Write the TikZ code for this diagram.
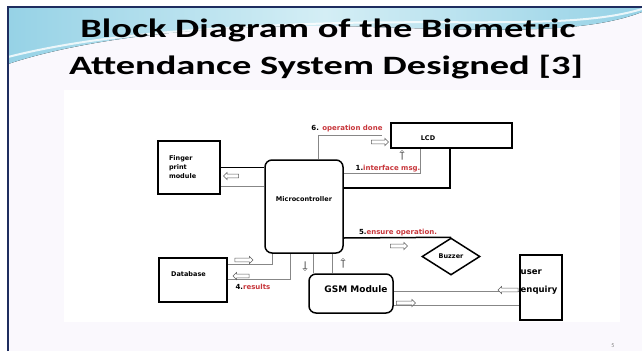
\documentclass[tikz,border=0pt]{standalone}
\usepackage{fontspec}
\setmainfont{Carlito}
\newfontfamily\diagfont{DejaVu Sans}
\usepackage{graphicx}
\usepackage{tikz}
\usetikzlibrary{shapes.geometric,shapes.arrows,positioning,calc}
\usepackage{xcolor}
\definecolor{FrameNavy}{RGB}{30,45,95}
\definecolor{BandCyan}{RGB}{150,210,230}
\definecolor{BandLight}{RGB}{212,238,245}
\definecolor{SlideTint}{RGB}{250,248,253}
\definecolor{LabelRed}{RGB}{200,55,60}
\definecolor{WireGray}{RGB}{135,135,135}
\tikzset{
  blockbox/.style={rectangle,draw=black,line width=1.5pt,fill=white,
    align=left,inner sep=1pt,font=\diagfont\bfseries\fontsize{6.5}{9}\selectfont},
  roundbox/.style={blockbox,rounded corners=7pt},
  txtlbl/.style={inner sep=0pt,font=\diagfont\bfseries\fontsize{6.5}{8}\selectfont},
  steplbl/.style={inner sep=0pt,font=\diagfont\bfseries\fontsize{7}{8}\selectfont},
  titletext/.style={inner sep=0pt,anchor=base,font=\bfseries\fontsize{26.5}{30}\selectfont},
  wire/.style={draw=WireGray,line width=0.7pt},
  heavywire/.style={draw=black,line width=1.5pt},
  hollow/.style={single arrow,draw=WireGray!70!black,fill=white,line width=0.5pt,
    inner xsep=0pt,inner ysep=1.6pt,text height=0pt,text depth=0pt,
    single arrow head extend=1.8pt,minimum height=15pt}
}

\begin{document}
\begin{tikzpicture}[x=1pt,y=-1pt]
  \useasboundingbox (0,0) rectangle (642,351);
  % slide background and title band
  \fill[white] (0,0) rectangle (642,351);
  \fill[SlideTint] (8,7) rectangle (642,351);
  \fill[left color=BandCyan,right color=BandCyan,middle color=BandLight]
    (8,7) -- (642,7) -- (642,12) .. controls (580,36) and (480,30) .. (340,26)
    .. controls (200,24) and (80,40) .. (8,64) -- cycle;
  \draw[white,line width=2pt,opacity=0.8] (8,57) .. controls (90,36) and (200,27) .. (340,23)
    .. controls (480,20) and (580,28) .. (642,9);
  \draw[FrameNavy,line width=2pt] (8,351) -- (8,7) -- (642,7);
  \node[titletext] (title1) at (328,37) {\scalebox{1.45}[1]{Block Diagram of the Biometric}};
  \node[titletext] (title2) at (326,74) {\scalebox{1.45}[1]{Attendance System Designed [3]}};
  \fill[white] (64,90) rectangle (620,322);

  % blocks
  \node[blockbox,minimum width=62pt,minimum height=53pt,text width=40pt] (fp) at (189,167.5) {Finger\\print\\module};
  \node[roundbox,minimum width=78pt,minimum height=93pt] (mcu) at (304,206.5) {};
  \node[txtlbl] (mcutext) at (304,199) {Microcontroller};
  \node[blockbox,minimum width=121pt,minimum height=25pt] (lcd) at (451.5,135.5) {};
  \node[txtlbl] (lcdtext) at (428,138) {LCD};
  \node[blockbox,minimum width=68pt,minimum height=44pt] (db) at (193,280) {};
  \node[txtlbl] (dbtext) at (188.5,274) {Database};
  \node[roundbox,minimum width=84pt,minimum height=39pt] (gsm) at (351,293.5) {};
  \node[txtlbl,font=\diagfont\bfseries\fontsize{9}{11}\selectfont] (gsmtext) at (356,289) {GSM Module};
  \node[diamond,draw=black,line width=1.5pt,fill=white,inner sep=0pt,
    minimum width=58pt,minimum height=37pt,font=\diagfont\bfseries\fontsize{6.5}{8}\selectfont] (bz) at (451,256.5) {Buzzer};
  \node[blockbox,minimum width=42pt,minimum height=65pt] (ue) at (541,287.5) {};
  \node[txtlbl,font=\diagfont\bfseries\fontsize{8.5}{18}\selectfont,align=left,anchor=west] (uetext) at (520.5,282) {user\\enquiry};

  % tap points on the blocks
  \coordinate (fpwire) at ([yshift=-18.5pt]fp.east);
  \coordinate (lcdtap) at ([xshift=-31.5pt]lcd.south);
  \coordinate (lcdbus) at ([xshift=-1.5pt]lcd.south);
  \coordinate (mcuopd) at ([xshift=14pt]mcu.north);
  \coordinate (mcuimsg) at ([yshift=33.5pt]mcu.east);
  \coordinate (mcubus) at ([yshift=18.5pt]mcu.east);
  \coordinate (mcubz) at ([yshift=-31.5pt]mcu.east);
  \coordinate (dbhi) at ([yshift=16pt]db.east);
  \coordinate (dblo) at ([yshift=1pt]db.east);
  \coordinate (mcudb1) at ([xshift=-32pt]mcu.south);
  \coordinate (mcudb2) at ([xshift=-14pt]mcu.south);
  \coordinate (mcugsm1) at ([xshift=9pt]mcu.south);
  \coordinate (mcugsm2) at ([xshift=28pt]mcu.south);
  \coordinate (gsmhi) at ([yshift=2.5pt]gsm.east);
  \coordinate (gsmlo) at ([yshift=-11.5pt]gsm.east);

  % connections
  \draw[wire] (mcuopd) |- ([xshift=-8pt]lcd.west);
  \draw[wire] (mcuimsg) -| (lcdtap);
  \draw[heavywire] (lcdbus) |- (mcubus);
  \draw[heavywire] (fp.east) -- (fp.east -| mcu.west);
  \draw[wire] (fpwire) -- (fpwire -| mcu.west);
  \draw[wire] (dbhi) -| (mcudb1);
  \draw[wire] (dblo) -| (mcudb2);
  \draw[wire] (mcugsm1) -- (mcugsm1 |- gsm.north);
  \draw[wire] (mcugsm2) -- (mcugsm2 |- gsm.north);
  \draw[heavywire] (mcubz) -- (bz.north);
  \draw[wire] (gsmhi) -- (gsmhi -| ue.west);
  \draw[wire] (gsmlo) -- (gsmlo -| ue.west);

  % hollow direction arrows
  \foreach \nm/\pos/\rot/\len in {hop/{(379,142)}/0/17, himsg/{(402,155)}/90/9,
      hfp/{(232,176)}/180/15, hdbin/{(243,260)}/0/18, hdbout/{(242,276)}/180/16,
      hgsmin/{(305,266)}/270/9, hgsmout/{(343,263)}/90/9, hbz/{(398,246)}/0/17,
      hsms/{(405,303)}/0/19, henq/{(509,290)}/180/20}
    \node[hollow,shape border rotate=\rot,minimum height=\len pt] (\nm) at \pos {};

  % step labels
  \node[steplbl] (lbl6) at (347,129) {6. \textcolor{LabelRed}{operation done}};
  \node[steplbl] (lbl1) at (388,169) {1.\textcolor{LabelRed}{interface msg.}};
  \node[steplbl] (lbl5) at (398,233) {5.\textcolor{LabelRed}{ensure operation.}};
  \node[steplbl] (lbl4) at (253,287) {4.\textcolor{LabelRed}{results}};

  \node[font=\fontsize{6}{7}\selectfont,text=gray] (pagenum) at (613,346) {5};
\end{tikzpicture}
\end{document}
